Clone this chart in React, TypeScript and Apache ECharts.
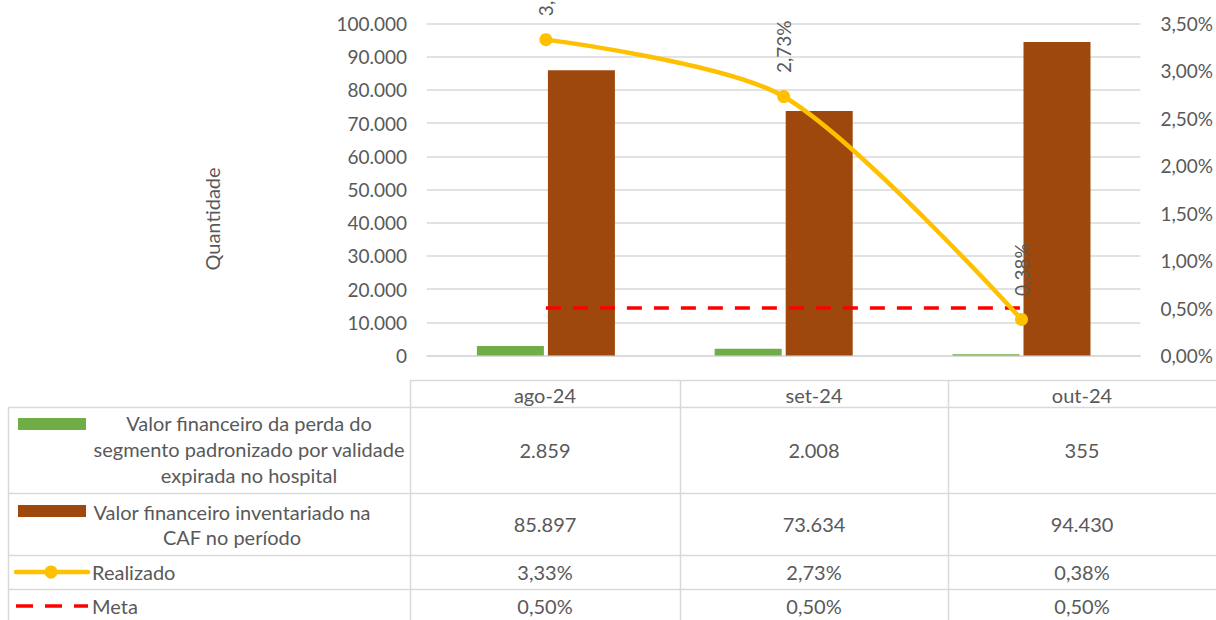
import React, { useEffect, useRef } from "react";
import * as echarts from "echarts";

const categories = ["ago-24", "set-24", "out-24"];
const perda = [2859, 2008, 355];
const inventariado = [85897, 73634, 94430];
const realizado = [0.0333, 0.0273, 0.0038];
const meta = [0.005, 0.005, 0.005];
const seriesNames = [
  "Valor financeiro da perda do segmento padronizado por validade expirada no hospital",
  "Valor financeiro inventariado na CAF no período",
  "Realizado",
  "Meta",
];
const tableLabelLines = [
  ["Valor financeiro da perda do", "segmento padronizado por validade", "expirada no hospital"],
  ["Valor financeiro inventariado na", "CAF no período"],
  ["Realizado"],
  ["Meta"],
];
const axisTitle = "Quantidade";

const GREEN = "#70AD47";
const BROWN = "#9E480E";
const YELLOW = "#FFC000";
const RED = "#FF0000";
const TEXT = "#595959";
const GRID = "#D9D9D9";
const FONT = "Lato, 'Open Sans', sans-serif";
const FS = 19;
const TFS = 20;

const fmtInt = (n: number) => Math.round(n).toString().replace(/\B(?=(\d{3})+(?!\d))/g, ".");
const fmtPct = (v: number) => (v * 100).toFixed(2).replace(".", ",") + "%";

export default function App() {
  const ref = useRef<HTMLDivElement>(null);
  useEffect(() => {
    document.body.style.margin = "0";
    if (!ref.current) return;
    const chart = echarts.init(ref.current, null, { renderer: "svg" });

    // table layout
    const colX = [410, 680, 948, 1216];
    const rowY = [407, 493, 555, 589, 640];
    const headerTop = 380;
    const leftX = 8;
    const g: any[] = [];
    const hline = (y: number, x1: number, x2: number) =>
      g.push({ type: "line", silent: true, shape: { x1, y1: y + 0.5, x2, y2: y + 0.5 }, style: { stroke: GRID, lineWidth: 1.5 } });
    const vline = (x: number, y1: number, y2: number) =>
      g.push({ type: "line", silent: true, shape: { x1: x + 0.5, y1, x2: x + 0.5, y2 }, style: { stroke: GRID, lineWidth: 1.5 } });
    hline(headerTop, colX[0], 1216);
    rowY.slice(0, 4).forEach((y) => hline(y, leftX, 1216));
    vline(leftX, rowY[0], 620);
    colX.slice(0, 3).forEach((x) => vline(x, headerTop, 620));

    const txt = (text: string, x: number, y: number, align: string, lineHeight = 26) =>
      g.push({
        type: "text",
        silent: true,
        x,
        y,
        style: {
          text,
          fill: TEXT,
          font: `${TFS}px ${FONT}`,
          fontSize: TFS,
          fontFamily: FONT,
          lineHeight,
          textAlign: align,
          align,
          textVerticalAlign: "middle",
          verticalAlign: "middle",
        },
      });

    categories.forEach((c, i) => txt(c, (colX[i] + colX[i + 1]) / 2, (headerTop + rowY[0]) / 2 + 1, "center"));
    const rowVals = [perda.map(fmtInt), inventariado.map(fmtInt), realizado.map(fmtPct), meta.map(fmtPct)];
    const rowCenters = [450, 524, 572, 606];
    rowVals.forEach((vals, r) =>
      vals.forEach((v, i) => txt(v, (colX[i] + colX[i + 1]) / 2, rowCenters[r], "center"))
    );
    // row labels
    txt(tableLabelLines[0].join("\n"), 249, 449, "center", 26);
    txt(tableLabelLines[1].join("\n"), 232, 524.5, "center", 25);
    txt(tableLabelLines[2].join("\n"), 92, 572, "left");
    txt(tableLabelLines[3].join("\n"), 92, 606, "left");
    // legend keys
    g.push({ type: "rect", silent: true, shape: { x: 18, y: 418, width: 68, height: 12 }, style: { fill: GREEN } });
    g.push({ type: "rect", silent: true, shape: { x: 18, y: 505, width: 68, height: 12 }, style: { fill: BROWN } });
    g.push({ type: "line", silent: true, shape: { x1: 16, y1: 572, x2: 88, y2: 572 }, style: { stroke: YELLOW, lineWidth: 4.5, lineCap: "round" } });
    g.push({ type: "circle", silent: true, shape: { cx: 51, cy: 572, r: 6.5 }, style: { fill: YELLOW } });
    g.push({ type: "line", silent: true, shape: { x1: 16, y1: 606, x2: 88, y2: 606 }, style: { stroke: RED, lineWidth: 3.5, lineDash: [17, 12] } });
    // axis title
    g.push({
      type: "text",
      silent: true,
      x: 212,
      y: 219,
      rotation: Math.PI / 2,
      style: {
        text: axisTitle,
        fill: TEXT,
        font: `${TFS}px ${FONT}`,
        textAlign: "center",
        align: "center",
        textVerticalAlign: "middle",
        verticalAlign: "middle",
      },
    });

    const axisLabelStyle = { color: TEXT, fontSize: FS, fontFamily: FONT };

    chart.setOption({
      animation: false,
      textStyle: { fontFamily: FONT },
      grid: { left: 427, right: 75, top: 23.5, bottom: 264.5, containLabel: false },
      xAxis: {
        type: "category",
        data: categories,
        axisLabel: { show: false },
        axisTick: { show: false },
        axisLine: { show: true, lineStyle: { color: GRID, width: 1.5 } },
      },
      yAxis: [
        {
          type: "value",
          min: 0,
          max: 100000,
          interval: 10000,
          axisLine: { show: false },
          axisTick: { show: false },
          splitLine: { lineStyle: { color: GRID, width: 1.5 } },
          axisLabel: { ...axisLabelStyle, margin: 20, formatter: (v: number) => fmtInt(v) },
        },
        {
          type: "value",
          min: 0,
          max: 0.035,
          interval: 0.005,
          axisLine: { show: false },
          axisTick: { show: false },
          splitLine: { show: false },
          axisLabel: { ...axisLabelStyle, margin: 20, formatter: (v: number) => fmtPct(v) },
        },
      ],
      series: [
        {
          name: seriesNames[0],
          type: "bar",
          data: perda,
          barWidth: 67,
          barGap: "6%",
          itemStyle: { color: GREEN },
        },
        {
          name: seriesNames[1],
          type: "bar",
          data: inventariado,
          barWidth: 67,
          barGap: "6%",
          itemStyle: { color: BROWN },
        },
        {
          name: seriesNames[3],
          type: "line",
          yAxisIndex: 1,
          data: meta,
          symbol: "none",
          lineStyle: { color: RED, width: 3.5, type: [15, 12] },
          z: 3,
        },
        {
          name: seriesNames[2],
          type: "line",
          yAxisIndex: 1,
          data: realizado,
          smooth: 0.28,
          symbol: "circle",
          symbolSize: 13,
          itemStyle: { color: YELLOW },
          lineStyle: { color: YELLOW, width: 4.5 },
          z: 4,
          label: {
            show: true,
            position: "top",
            rotate: 90,
            align: "left",
            verticalAlign: "middle",
            distance: 17,
            color: TEXT,
            fontSize: FS,
            fontFamily: FONT,
            formatter: (p: any) => fmtPct(p.value),
          },
        },
      ],
      graphic: { elements: g },
    });
    return () => chart.dispose();
  }, []);
  return <div ref={ref} style={{ width: 1216, height: 620 }} />;
}
